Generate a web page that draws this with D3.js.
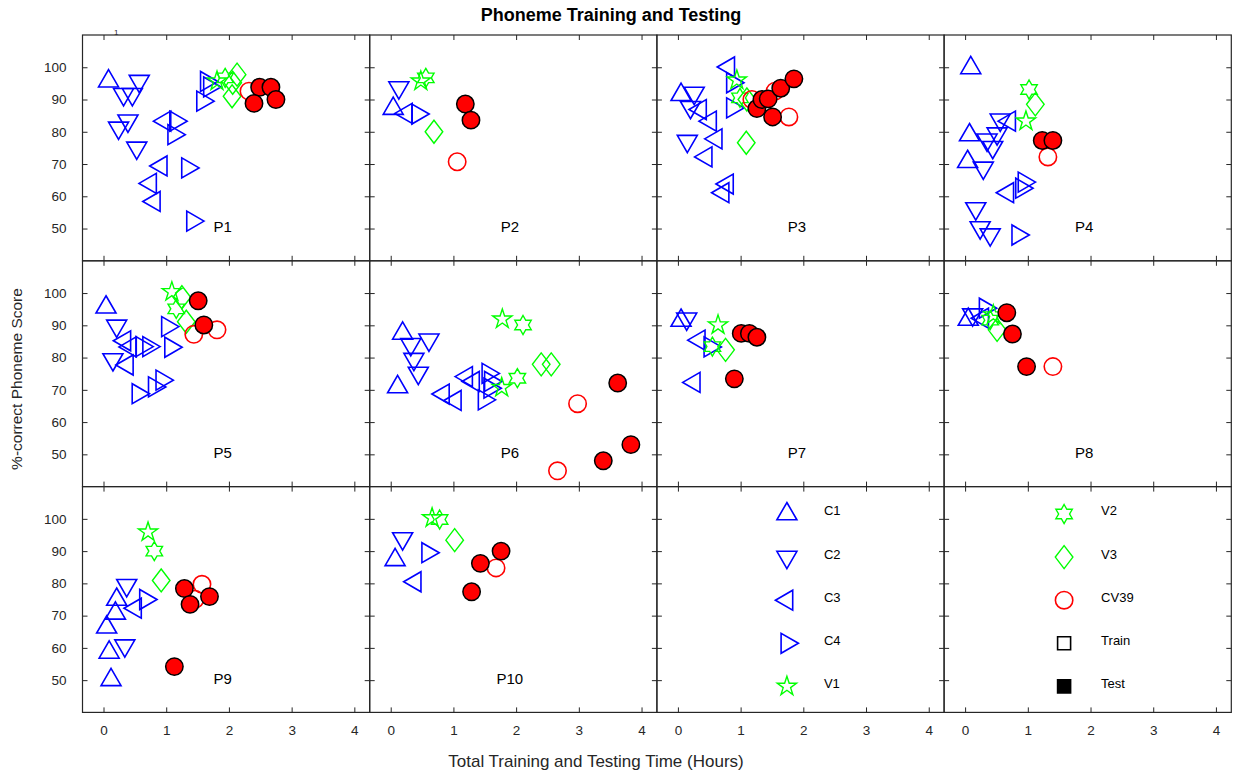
<!DOCTYPE html>
<html>
<head>
<meta charset="utf-8">
<script src="https://cdn.jsdelivr.net/npm/d3@7"></script>
<style>
body { margin: 0; background: #fff; }
svg { font-family: "Liberation Sans", Arial, sans-serif; }
</style>
</head>
<body>
<svg id="chart" width="1234" height="773"></svg>
<script>
"use strict";

var width = 1234,
    height = 773,
    panelNames = ["P1", "P2", "P3", "P4", "P5", "P6", "P7", "P8", "P9", "P10"],
    xTicks = [0, 1, 2, 3, 4],
    yTicks = [50, 60, 70, 80, 90, 100];

// rows: [panel, hours, % correct]
var c1 = [[1, 0.08, 95.7], [2, 0.04, 87.2], [3, 0.05, 91.5],
    [4, 0.09, 99.8], [4, 0.07, 79.0], [4, 0.04, 70.7], [5, 0.04, 95.6],
    [6, 0.19, 87.5], [6, 0.11, 70.9], [7, 0.05, 91.5], [8, 0.05, 91.8],
    [9, 0.12, 50.1], [9, 0.09, 58.6], [9, 0.05, 66.4], [9, 0.19, 70.7], [9, 0.21, 75.0],
    [10, 0.07, 87.3]];

var c2 = [[1, 0.57, 95.7], [1, 0.32, 91.6], [1, 0.46, 91.6], [1, 0.39, 83.4], [1, 0.24, 81.2], [1, 0.53, 75.0],
    [2, 0.13, 93.7], [3, 0.26, 92.0], [3, 0.20, 87.6], [3, 0.15, 77.1],
    [4, 0.56, 83.7], [4, 0.51, 79.4], [4, 0.35, 77.5], [4, 0.44, 75.2], [4, 0.29, 68.8], [4, 0.17, 56.2], [4, 0.24, 50.3], [4, 0.40, 48.1],
    [5, 0.21, 89.8], [5, 0.15, 79.4],
    [6, 0.32, 84.1], [6, 0.61, 85.5], [6, 0.37, 79.5], [6, 0.44, 75.2],
    [7, 0.14, 92.0], [8, 0.12, 93.3], [9, 0.37, 79.4], [9, 0.34, 60.7], [10, 0.19, 93.9]];

var c3 = [[1, 0.92, 69.4], [1, 0.75, 64.0], [1, 0.81, 58.4], [1, 0.98, 83.3],
    [2, 0.25, 85.7],
    [3, 0.36, 86.9], [3, 0.52, 83.3], [3, 0.61, 77.8], [3, 0.45, 72.2], [3, 0.79, 63.8], [3, 0.72, 61.1], [3, 0.81, 100.1],
    [4, 0.71, 83.3], [4, 0.68, 61.1],
    [5, 0.34, 85.2], [5, 0.43, 83.3], [5, 0.38, 77.7],
    [6, 0.84, 68.7], [6, 1.03, 66.7], [6, 1.21, 74.1], [6, 1.32, 72.6],
    [7, 0.34, 85.4], [7, 0.26, 72.3], [8, 0.28, 92.2], [9, 0.51, 72.3], [10, 0.39, 80.5]];

var c4 = [[1, 1.34, 68.8], [1, 1.42, 52.3], [1, 1.15, 83.3], [1, 1.12, 79.1], [1, 1.64, 95.6], [1, 1.69, 93.9], [1, 1.58, 89.5],
    [2, 0.43, 85.5], [3, 0.87, 95.2], [3, 0.87, 87.4],
    [4, 0.94, 64.4], [4, 0.90, 62.5], [4, 0.84, 48.0],
    [5, 0.61, 83.4], [5, 0.72, 83.4], [5, 1.02, 89.6], [5, 1.07, 83.2], [5, 0.55, 68.8], [5, 0.81, 70.9], [5, 0.93, 73.0],
    [6, 1.55, 75.1], [6, 1.59, 72.6], [6, 1.49, 66.9], [6, 1.58, 70.5],
    [7, 0.51, 83.3], [8, 0.32, 95.3], [9, 0.67, 75.0], [10, 0.59, 89.5]];

var v1 = [[1, 1.81, 95.7], [2, 0.48, 95.7], [3, 0.94, 96.0], [4, 0.97, 83.3], [5, 1.09, 100.4],
    [6, 1.78, 91.9], [6, 1.77, 70.7], [7, 0.64, 90.1], [8, 0.45, 93.2], [9, 0.71, 95.9], [10, 0.66, 100.3]];

var v2 = [[1, 1.94, 96.7], [2, 0.56, 96.7], [3, 0.99, 90.5], [4, 1.02, 93.1], [5, 1.16, 95.1],
    [6, 2.11, 90.1], [6, 2.02, 73.6], [7, 0.55, 83.4], [8, 0.40, 91.6], [9, 0.81, 90.0], [10, 0.78, 99.8]];

var v3 = [[1, 2.13, 97.7], [1, 2.06, 95.2], [1, 2.05, 91.0], [2, 0.69, 80.0], [3, 1.09, 76.6], [3, 1.10, 90.0],
    [4, 1.12, 88.5], [5, 1.25, 98.7], [5, 1.32, 91.1], [6, 2.40, 77.9], [6, 2.56, 77.9],
    [7, 0.76, 82.4], [8, 0.51, 88.6], [9, 0.92, 80.9], [10, 1.02, 93.4]];

var cvTrain = [[1, 2.32, 92.6], [2, 1.06, 70.7], [3, 1.18, 90.0], [3, 1.55, 92.6], [3, 1.77, 84.6],
    [4, 1.32, 72.2], [5, 1.44, 87.2], [5, 1.81, 88.6], [6, 2.98, 65.7], [6, 2.66, 44.9],
    [8, 1.40, 77.2], [9, 1.57, 79.7], [9, 1.46, 75.1], [10, 1.68, 84.8]];

var cvTest = [[1, 2.49, 93.8], [1, 2.67, 93.8], [1, 2.40, 88.8], [1, 2.75, 90.0],
    [2, 1.19, 88.6], [2, 1.28, 83.6],
    [3, 1.26, 87.2], [3, 1.34, 90.0], [3, 1.44, 90.2], [3, 1.51, 84.6], [3, 1.64, 93.5], [3, 1.85, 96.4],
    [4, 1.23, 77.3], [4, 1.40, 77.3], [5, 1.51, 97.6], [5, 1.60, 90.1],
    [6, 3.62, 72.1], [6, 3.83, 53.0], [6, 3.39, 48.0],
    [7, 1.01, 87.5], [7, 1.14, 87.5], [7, 1.26, 86.3], [7, 0.90, 73.4],
    [8, 0.665, 93.9], [8, 0.755, 87.3], [8, 0.98, 77.2],
    [9, 1.29, 78.4], [9, 1.38, 73.5], [9, 1.69, 75.9], [9, 1.13, 54.2],
    [10, 1.43, 86.2], [10, 1.76, 90.0], [10, 1.29, 77.4]];

var axisColor = "#262626";
var blue = "#0000ff", green = "#00ff00", red = "#ff0000";

var series = [
    { name: "C1", data: c1, shape: "up", stroke: blue, fill: "none" },
    { name: "C2", data: c2, shape: "down", stroke: blue, fill: "none" },
    { name: "C3", data: c3, shape: "left", stroke: blue, fill: "none" },
    { name: "C4", data: c4, shape: "right", stroke: blue, fill: "none" },
    { name: "V1", data: v1, shape: "star", stroke: green, fill: "none" },
    { name: "V2", data: v2, shape: "hex", stroke: green, fill: "none" },
    { name: "V3", data: v3, shape: "diamond", stroke: green, fill: "none" },
    { name: "CV39", data: cvTrain, shape: "circle", stroke: red, fill: "none" },
    { name: "CV39 test", data: cvTest, shape: "circle", stroke: "#000", fill: red }
];

// 3x4 grid of axes, the last two hold the legend
var gridLeft = 82.5, gridTop = 35,
    pw = 287.2, ph = 225.8;

var x = d3.scaleLinear().domain([-0.335, 4.245]).range([0, pw]);
var y = d3.scaleLinear().domain([40, 110]).range([ph, 0]);

function hexagram(R) {
    var pts = [], r = R / Math.sqrt(3);
    for (var k = 0; k < 12; k++) {
        var a = -Math.PI / 2 + k * Math.PI / 6, rr = k % 2 ? r : R;
        pts.push([rr * Math.cos(a), rr * Math.sin(a)]);
    }
    return "M" + pts.join("L") + "Z";
}

function shapePath(shape) {
    switch (shape) {
        case "up": return "M0,-11.5L10,5.8L-10,5.8Z";
        case "down": return "M0,11.5L10,-5.8L-10,-5.8Z";
        case "left": return "M-11.5,0L5.8,-10L5.8,10Z";
        case "right": return "M11.5,0L-5.8,-10L-5.8,10Z";
        case "diamond": return "M0,-11.5L8.8,0L0,11.5L-8.8,0Z";
        case "star": return d3.symbol(d3.symbolStar, 115)();
        case "hex": return hexagram(9.5);
        case "circle": return d3.symbol(d3.symbolCircle, Math.PI * 8.7 * 8.7)();
        case "square": return "M-6.5,-6.5H6.5V6.5H-6.5Z";
    }
}

function marker(g, shape, px, py, stroke, fill) {
    var thin = shape === "star" || shape === "hex" || shape === "diamond";
    return g.append("path")
        .attr("d", shapePath(shape))
        .attr("transform", "translate(" + px + "," + py + ")")
        .attr("fill", fill)
        .attr("stroke", stroke)
        .attr("stroke-width", thin ? 1.4 : 1.6);
}

var svg = d3.select("#chart");

svg.append("rect").attr("width", width).attr("height", height).attr("fill", "#fff");

var panels = [];
for (var i = 0; i < 12; i++) {
    var col = i % 4, row = Math.floor(i / 4);
    var g = svg.append("g")
        .attr("transform", "translate(" + (gridLeft + col * pw) + "," + (gridTop + row * ph) + ")");
    panels.push(g);

    g.append("g").attr("transform", "translate(0," + ph + ")")
        .call(d3.axisBottom(x).tickValues(xTicks).tickSizeInner(-5).tickSizeOuter(0).tickPadding(13)
            .tickFormat(row === 2 ? d3.format("d") : ""));
    g.append("g")
        .call(d3.axisTop(x).tickValues(xTicks).tickSizeInner(-5).tickSizeOuter(0).tickFormat(""));
    g.append("g")
        .call(d3.axisLeft(y).tickValues(yTicks).tickSizeInner(-5).tickSizeOuter(0).tickPadding(16)
            .tickFormat(col === 0 ? d3.format("d") : ""));
    g.append("g").attr("transform", "translate(" + pw + ",0)")
        .call(d3.axisRight(y).tickValues(yTicks).tickSizeInner(-5).tickSizeOuter(0).tickFormat(""));

    g.selectAll(".domain").remove();
    g.selectAll(".tick line").attr("stroke", axisColor);
    g.selectAll(".tick text").attr("fill", axisColor).attr("font-size", 13.5)
        .attr("font-family", "Liberation Sans, Arial, sans-serif");

    g.append("rect").attr("width", pw).attr("height", ph)
        .attr("fill", "none").attr("stroke", axisColor).attr("stroke-width", 1.2);

    if (i < panelNames.length) {
        g.append("text")
            .attr("x", x(1.9)).attr("y", y(50.6))
            .attr("text-anchor", "middle").attr("dominant-baseline", "central")
            .attr("font-size", 15).attr("fill", "#000")
            .text(panelNames[i]);
    }
}

series.forEach(function (s) {
    s.data.forEach(function (d) {
        var m = marker(panels[d[0] - 1], s.shape, x(d[1]), y(d[2]), s.stroke, s.fill);
        if (s.fill !== "none") m.attr("stroke-width", 1.5);
    });
});

var legendLeft = [
    { label: "C1", shape: "up", stroke: blue, fill: "none" },
    { label: "C2", shape: "down", stroke: blue, fill: "none" },
    { label: "C3", shape: "left", stroke: blue, fill: "none" },
    { label: "C4", shape: "right", stroke: blue, fill: "none" },
    { label: "V1", shape: "star", stroke: green, fill: "none" }
];
var legendRight = [
    { label: "V2", shape: "hex", stroke: green, fill: "none" },
    { label: "V3", shape: "diamond", stroke: green, fill: "none" },
    { label: "CV39", shape: "circle", stroke: red, fill: "none" },
    { label: "Train", shape: "square", stroke: "#000", fill: "none" },
    { label: "Test", shape: "square", stroke: "#000", fill: "#000" }
];

function drawLegend(g, items, symX, textX) {
    items.forEach(function (d, k) {
        var cy = 27.4 + k * 43.1;
        marker(g, d.shape, symX, cy, d.stroke, d.fill);
        g.append("text").attr("x", textX).attr("y", cy - 3)
            .attr("dominant-baseline", "central").attr("font-size", 13).attr("fill", "#000")
            .text(d.label);
    });
}
drawLegend(panels[10], legendLeft, 130, 167);
drawLegend(panels[11], legendRight, 120, 157);

svg.append("text")
    .attr("x", 611).attr("y", 21)
    .attr("text-anchor", "middle").attr("font-weight", "bold").attr("font-size", 18)
    .text("Phoneme Training and Testing");

svg.append("text")
    .attr("x", 114).attr("y", 35)
    .attr("font-size", 8).attr("fill", axisColor)
    .text("1");

svg.append("text")
    .attr("transform", "translate(22,379) rotate(-90)")
    .attr("text-anchor", "middle").attr("font-size", 15.5).attr("fill", axisColor)
    .text("%-correct Phoneme Score");

svg.append("text")
    .attr("x", 596).attr("y", 767)
    .attr("text-anchor", "middle").attr("font-size", 17).attr("fill", axisColor)
    .text("Total Training and Testing Time (Hours)");
</script>
</body>
</html>
